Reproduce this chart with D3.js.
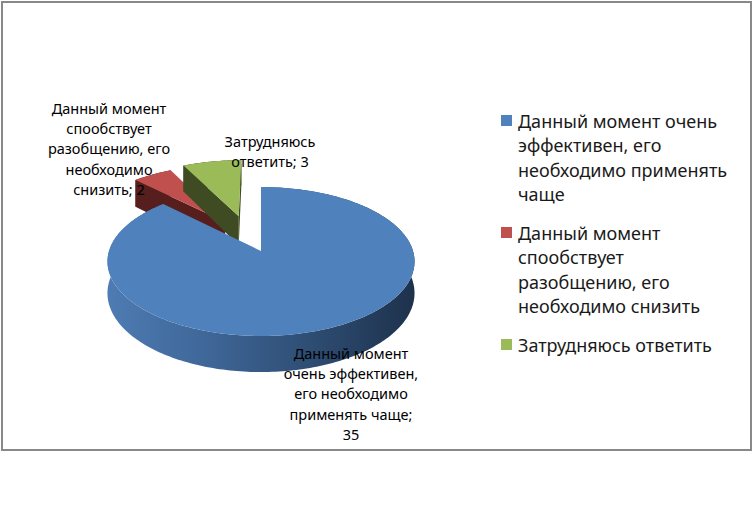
<!DOCTYPE html>
<html><head><meta charset="utf-8">
<script src="https://cdn.jsdelivr.net/npm/d3@7"></script>
<style>body{margin:0;background:#fff}svg{display:block}</style>
</head><body>
<script>
// ---- data ----
const categories = [
  "Данный момент очень эффективен, его необходимо применять чаще",
  "Данный момент спообствует разобщению, его необходимо снизить",
  "Затрудняюсь ответить"
];
const values = [35, 2, 3];
const legendLines = [
  ["Данный момент очень", "эффективен, его", "необходимо применять", "чаще"],
  ["Данный момент", "спообствует", "разобщению, его", "необходимо снизить"],
  ["Затрудняюсь ответить"]
];
const labelLines = [
  ["Данный момент", "очень эффективен,", "его необходимо", "применять чаще;", "{v}"],
  ["Данный момент", "спообствует", "разобщению, его", "необходимо", "снизить; {v}"],
  ["Затрудняюсь", "ответить; {v}"]
];

// ---- style / layout ----
const W = 753, H = 512;
const explodeOffset = [[0, 0], [-0.25, -0.42], [-0.157, -0.51]]; // in radius units (u, v)
const topColors = ["#4F81BD", "#C0504D", "#9BBB59"];
const sideColors = ["url(#blueSide)", "#561e1d", "#3e4b23"];
const CX = 261, CY = 251, RX = 152, RY = 73, P = 0.141, DEPTH = 31;
const labelPos = [{x: 351, y: 354}, {x: 109, y: 109}, {x: 270, y: 142}];
const labelStep = 20.3, labelFont = 14.5;
const legendX = 501, legendTextX = 518, legendY0 = 122, legendStep = 24.5, legendGap = 38.5, legendFont = 18;

const svg = d3.select("body").append("svg").attr("width", W).attr("height", H);
svg.append("rect").attr("width", W).attr("height", H).attr("fill", "#fff");

const defs = svg.append("defs");
const g1 = defs.append("linearGradient").attr("id", "blueSide")
  .attr("gradientUnits", "userSpaceOnUse").attr("x1", CX - RX).attr("x2", CX + RX).attr("y1", 0).attr("y2", 0);
[[0, "#4d7bb2"], [0.3, "#40689a"], [0.6, "#31527a"], [0.85, "#253e5e"], [1, "#1e324c"]]
  .forEach(([o, c]) => g1.append("stop").attr("offset", o).attr("stop-color", c));

// frame
svg.append("rect").attr("x", 2).attr("y", 2).attr("width", 749).attr("height", 448)
  .attr("fill", "none").attr("stroke", "#888").attr("stroke-width", 2);

function proj(u, v, h) {
  const s = 1 / (1 - P * v);
  return [CX + RX * u * s, CY + RY * v * s + DEPTH * h * s];
}
const line = d3.line();
function area(pts) {
  let a = 0;
  for (let i = 0; i < pts.length; i++) {
    const p = pts[i], q = pts[(i + 1) % pts.length];
    a += p[0] * q[1] - q[0] * p[1];
  }
  return a;
}

const arcs = d3.pie().sort(null).value(d => d)(values);
const pieG = svg.append("g");
const order = [1, 2, 0];
order.forEach(i => {
  const a = arcs[i];
  const [ou, ov] = explodeOffset[i];
  const n = Math.max(4, Math.ceil((a.endAngle - a.startAngle) / 0.02));
  const th = d3.range(n + 1).map(k => a.startAngle + (a.endAngle - a.startAngle) * k / n);
  const rim = (t, h) => proj(ou + Math.sin(t), ov - Math.cos(t), h);
  const apexT = proj(ou, ov, 0), apexB = proj(ou, ov, 1);
  const topArc = th.map(t => rim(t, 0)), botArc = th.map(t => rim(t, 1));
  const g = pieG.append("g");
  // outer side
  g.append("path").attr("d", line(topArc.concat(botArc.slice().reverse())) + "Z")
    .attr("fill", sideColors[i]);
  // radial faces
  const sf = [apexT, rim(a.startAngle, 0), rim(a.startAngle, 1), apexB];
  const ef = [apexT, rim(a.endAngle, 0), rim(a.endAngle, 1), apexB];
  if (area(sf) < 0) g.append("path").attr("d", line(sf) + "Z").attr("fill", i === 0 ? "#2a4569" : sideColors[i]);
  if (area(ef) > 0) g.append("path").attr("d", line(ef) + "Z").attr("fill", i === 0 ? "#2a4569" : sideColors[i]);
  // top
  g.append("path").attr("d", line([apexT].concat(topArc)) + "Z").attr("fill", topColors[i]);
});

// data labels
const fontFam = "'Noto Sans', 'Open Sans', 'DejaVu Sans', sans-serif";
labelLines.forEach((ls, i) => {
  const t = svg.append("text").attr("text-anchor", "middle")
    .attr("font-family", fontFam).attr("font-size", labelFont).attr("fill", "#000");
  ls.forEach((l, k) => {
    t.append("tspan").attr("x", labelPos[i].x)
      .attr("y", labelPos[i].y + k * labelStep + labelFont * 0.33)
      .text(l.replace("{v}", values[i]));
  });
});

// legend
let yy = legendY0;
legendLines.forEach((ls, i) => {
  svg.append("rect").attr("x", legendX).attr("y", yy - 7).attr("width", 11).attr("height", 11)
    .attr("fill", topColors[i]);
  const t = svg.append("text").attr("font-family", fontFam).attr("font-size", legendFont).attr("fill", "#1a1a1a");
  ls.forEach((l, k) => {
    t.append("tspan").attr("x", legendTextX).attr("y", yy + k * legendStep + legendFont * 0.33).text(l);
  });
  yy += (ls.length - 1) * legendStep + legendGap;
});
</script>
</body></html>
